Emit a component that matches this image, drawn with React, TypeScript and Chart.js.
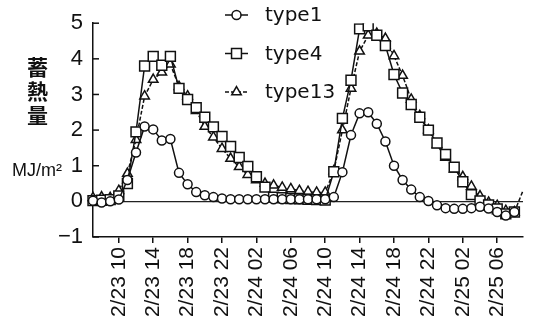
import React, { useEffect, useRef } from 'react';
import { Chart, registerables } from 'chart.js';
import { drawPoint } from 'chart.js/helpers';

Chart.register(...registerables);

const categories = [
  '2/23 07', '2/23 08', '2/23 09', '2/23 10', '2/23 11', '2/23 12', '2/23 13', '2/23 14',
  '2/23 15', '2/23 16', '2/23 17', '2/23 18', '2/23 19', '2/23 20', '2/23 21', '2/23 22',
  '2/23 23', '2/24 00', '2/24 01', '2/24 02', '2/24 03', '2/24 04', '2/24 05', '2/24 06',
  '2/24 07', '2/24 08', '2/24 09', '2/24 10', '2/24 11', '2/24 12', '2/24 13', '2/24 14',
  '2/24 15', '2/24 16', '2/24 17', '2/24 18', '2/24 19', '2/24 20', '2/24 21', '2/24 22',
  '2/24 23', '2/25 00', '2/25 01', '2/25 02', '2/25 03', '2/25 04', '2/25 05', '2/25 06',
  '2/25 07', '2/25 08', '2/25 09',
];

const tickLabels = [
  '2/23 10', '2/23 14', '2/23 18', '2/23 22', '2/24 02', '2/24 06',
  '2/24 10', '2/24 14', '2/24 18', '2/24 22', '2/25 02', '2/25 06',
];

const type1 = [
  0.02, -0.03, 0.0, 0.05, 0.6, 1.37, 2.1, 2.02, 1.71, 1.75, 0.8, 0.48, 0.26, 0.17, 0.12, 0.08,
  0.06, 0.06, 0.06, 0.06, 0.06, 0.06, 0.06, 0.06, 0.06, 0.06, 0.06, 0.06, 0.12, 0.82, 1.86, 2.47,
  2.5, 2.18, 1.68, 1.0, 0.6, 0.33, 0.12, 0.01, -0.11, -0.19, -0.21, -0.21, -0.19, -0.15, -0.2, -0.3,
  -0.4, -0.3, null,
];

const type4 = [
  0.02, 0.03, 0.05, 0.15, 0.5, 1.95, 3.8, 4.07, 3.82, 4.07, 3.17, 2.86, 2.63, 2.36, 2.09, 1.82,
  1.54, 1.23, 0.98, 0.69, 0.4, 0.12, 0.1, 0.08, 0.07, 0.06, 0.05, 0.04, 0.83, 2.33, 3.4, 4.84,
  4.93, 4.66, 4.37, 3.56, 3.04, 2.72, 2.36, 2.0, 1.64, 1.32, 0.96, 0.55, 0.19, 0.01, -0.1, -0.21,
  -0.35, -0.3, null,
];

const type13 = [
  0.1, 0.12, 0.1, 0.3, 0.78, 1.73, 2.95, 3.42, 3.62, 3.85, 3.22, 2.95, 2.54, 2.1, 1.8, 1.48,
  1.2, 0.97, 0.75, 0.6, 0.5, 0.45, 0.39, 0.35, 0.3, 0.27, 0.25, 0.25, 0.85, 2.0, 3.17, 4.21,
  4.66, 4.71, 4.57, 4.08, 3.53, 2.86, 2.4, 2.0, 1.59, 1.23, 0.9, 0.69, 0.42, 0.15, -0.03, -0.12,
  -0.26, -0.3, 0.3,
];

const seriesNames = ['type1', 'type4', 'type13'];
const yTitleChars = ['蓄', '熱', '量'];
const yUnit = 'MJ/m²';

const FONT = "'Liberation Sans', Arial, sans-serif";

const overlayPlugin = {
  id: 'overlay',
  beforeDatasetsDraw(chart: any) {
    const { ctx, chartArea, scales } = chart;
    const y = scales.y;
    ctx.save();
    ctx.strokeStyle = '#111';
    ctx.lineWidth = 1.5;
    y.ticks.forEach((t: any) => {
      const py = y.getPixelForValue(t.value);
      ctx.beginPath();
      ctx.moveTo(chartArea.left, py);
      ctx.lineTo(chartArea.left + 6, py);
      ctx.stroke();
    });
    ctx.restore();
  },
  afterDraw(chart: any) {
    const { ctx } = chart;
    ctx.save();
    ctx.fillStyle = '#111';
    ctx.textAlign = 'center';
    ctx.textBaseline = 'middle';
    ctx.font = "bold 21px 'Noto Sans CJK JP', sans-serif";
    yTitleChars.forEach((c, i) => ctx.fillText(c, 37.5, 67.5 + i * 24));
    ctx.font = `18px ${FONT}`;
    ctx.fillText(yUnit, 37, 171);

    // legend
    chart.data.datasets.forEach((ds: any, i: number) => {
      const ly = 15 + i * 38.5;
      ctx.strokeStyle = '#111';
      ctx.lineWidth = 1.5;
      ctx.setLineDash(ds.borderDash || []);
      ctx.beginPath();
      ctx.moveTo(225, ly);
      ctx.lineTo(248, ly);
      ctx.stroke();
      ctx.setLineDash([]);
      ctx.fillStyle = '#fff';
      drawPoint(ctx, { pointStyle: ds.pointStyle, radius: ds.legendRadius, rotation: 0, borderWidth: 1.5 }, 236.5, ly);
      ctx.fillStyle = '#111';
      ctx.textAlign = 'left';
      ctx.font = "20px 'DejaVu Sans', sans-serif";
      ctx.fillText(seriesNames[i], 265, ly + 1);
    });
    ctx.restore();
  },
};

export default function App() {
  const ref = useRef<HTMLCanvasElement>(null);

  useEffect(() => {
    if (!ref.current) return;
    const last = categories.length - 1;
    const chart = new Chart(ref.current, {
      type: 'line',
      data: {
        labels: categories,
        datasets: [
          {
            label: seriesNames[0],
            data: type1,
            borderColor: '#111',
            borderWidth: 1.5,
            backgroundColor: '#fff',
            pointBackgroundColor: '#fff',
            pointBorderColor: '#111',
            pointBorderWidth: 1.5,
            pointStyle: 'circle',
            pointRadius: 4.5,
            legendRadius: 4.5,
          } as any,
          {
            label: seriesNames[1],
            data: type4,
            borderColor: '#111',
            borderWidth: 1.5,
            backgroundColor: '#fff',
            pointBackgroundColor: '#fff',
            pointBorderColor: '#111',
            pointBorderWidth: 1.5,
            pointStyle: 'rect',
            pointRadius: 7,
            legendRadius: 7,
          } as any,
          {
            label: seriesNames[2],
            data: type13,
            borderColor: '#111',
            borderWidth: 1.5,
            borderDash: [4, 2],
            backgroundColor: '#fff',
            pointBackgroundColor: '#fff',
            pointBorderColor: '#111',
            pointBorderWidth: 1.5,
            pointStyle: 'triangle',
            pointRadius: (c: any) => (c.dataIndex === last ? 0 : 5.5),
            legendRadius: 5.5,
          } as any,
        ],
      },
      options: {
        animation: false,
        responsive: false,
        maintainAspectRatio: false,
        layout: { padding: { left: 0, top: 16, right: 11, bottom: 0 } },
        plugins: { legend: { display: false }, tooltip: { enabled: false } },
        elements: { line: { tension: 0 } },
        scales: {
          x: {
            type: 'category',
            offset: false,
            border: { display: true, color: '#111', width: 1.5 },
            grid: {
              display: true,
              drawOnChartArea: false,
              drawTicks: true,
              tickLength: 6,
              color: '#111',
              lineWidth: 1.5,
            },
            ticks: {
              autoSkip: false,
              maxRotation: 90,
              minRotation: 90,
              padding: 4,
              color: '#111',
              font: { family: FONT, size: 21 },
              callback: function (this: any, value: any) {
                const lab = this.getLabelForValue(value);
                return tickLabels.includes(lab) ? lab : null;
              },
            },
            afterFit: (s: any) => {
              s.height = 334 - 237;
            },
          },
          y: {
            min: -1,
            max: 5,
            border: { display: true, color: '#111', width: 1.5 },
            grid: {
              drawTicks: false,
              color: (c: any) => (c.tick && c.tick.value === 0 ? '#222' : 'rgba(0,0,0,0)'),
              lineWidth: 1.2,
            },
            ticks: {
              stepSize: 1,
              padding: 10,
              color: '#111',
              font: { family: FONT, size: 22 },
              callback: (v: any) => (Number(v) < 0 ? '−' + Math.abs(Number(v)) : String(v)),
            },
            afterFit: (s: any) => {
              s.width = 93;
            },
          },
        },
      },
      plugins: [overlayPlugin],
    });
    return () => chart.destroy();
  }, []);

  return (
    <div style={{ position: 'fixed', left: 0, top: 0, width: 534, height: 334, background: '#fff' }}>
      <canvas ref={ref} width={534} height={334} style={{ display: 'block', width: 534, height: 334 }} />
    </div>
  );
}
